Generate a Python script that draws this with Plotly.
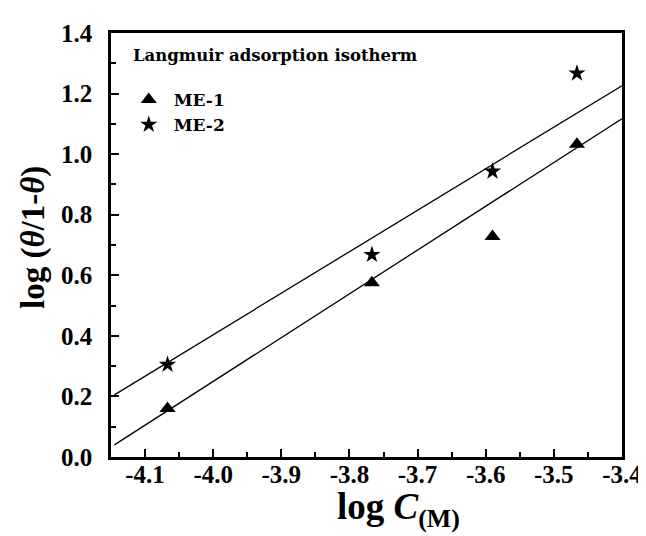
import plotly.graph_objects as go

# data
log_c = [-4.067, -3.767, -3.590, -3.466]
me1 = [0.16, 0.575, 0.728, 1.033]
me2 = [0.305, 0.668, 0.943, 1.267]
fit_x = [-4.145, -3.4]
fit_me1 = [0.04, 1.117]
fit_me2 = [0.205, 1.226]

x_ticks = [-4.1, -4.0, -3.9, -3.8, -3.7, -3.6, -3.5, -3.4]
x_labels = ["-4.1", "-4.0", "-3.9", "-3.8", "-3.7", "-3.6", "-3.5", "-3.4"]
y_ticks = [0.0, 0.2, 0.4, 0.6, 0.8, 1.0, 1.2, 1.4]
y_labels = ["0.0", "0.2", "0.4", "0.6", "0.8", "1.0", "1.2", "1.4"]

W, H = 646, 536
L, R, T, B = 103, 22, 24, 87
pw, ph = W - L - R, H - T - B

def px(x):
    return (x - L) / pw

def py(y):
    return (H - B - y) / ph

fig = go.Figure()
fig.add_trace(go.Scatter(x=fit_x, y=fit_me1, mode="lines", line=dict(color="black", width=1.3), showlegend=False))
fig.add_trace(go.Scatter(x=fit_x, y=fit_me2, mode="lines", line=dict(color="black", width=1.3), showlegend=False))
fig.add_trace(go.Scatter(x=log_c, y=me1, mode="markers", name="ME-1",
                         marker=dict(symbol="triangle-up", size=14, color="black")))
fig.add_trace(go.Scatter(x=log_c, y=me2, mode="markers", name="ME-2",
                         marker=dict(symbol="star", size=13, color="black")))

axis_common = dict(
    showline=True, linecolor="black", linewidth=2.5, mirror=True,
    ticks="inside", ticklen=8, tickwidth=2, tickcolor="black",
    showgrid=False, zeroline=False,
    tickfont=dict(family="Liberation Serif", size=25, color="black", weight="bold"),
)

fig.update_xaxes(range=[-4.15, -3.3999], tickmode="array", tickvals=x_ticks, ticktext=x_labels,
                 minor=dict(ticks="inside", ticklen=5, tickwidth=2, tickcolor="black", dtick=0.05, tick0=-4.15),
                 ticklabelstandoff=-7, **axis_common)
fig.update_yaxes(range=[0, 1.4], tickmode="array", tickvals=y_ticks, ticktext=y_labels,
                 minor=dict(ticks="inside", ticklen=5, tickwidth=2, tickcolor="black", dtick=0.1, tick0=0),
                 ticklabelstandoff=11, **axis_common)

fig.add_annotation(text="Langmuir adsorption isotherm", xref="paper", yref="paper",
                   x=px(123), y=py(47), xanchor="left", yanchor="middle", showarrow=False,
                   font=dict(family="DejaVu Serif", size=16.5, color="black", weight="bold"))
fig.add_annotation(text="log (<i>θ</i>/1-<i>θ</i>)", xref="paper", yref="paper",
                   x=px(24), y=py(229), xanchor="center", yanchor="middle", textangle=-90,
                   showarrow=False,
                   font=dict(family="Liberation Serif", size=33, color="black", weight="bold"))
fig.add_annotation(text="log <i>C</i><sub>(M)</sub>", xref="paper", yref="paper",
                   x=px(396), y=py(502), xanchor="center", yanchor="middle",
                   showarrow=False,
                   font=dict(family="Liberation Serif", size=37, color="black", weight="bold"))

fig.update_layout(
    width=W, height=H,
    margin=dict(l=L, r=R, t=T, b=B),
    paper_bgcolor="white", plot_bgcolor="white",
    showlegend=True,
    legend=dict(x=px(116), y=py(73), xanchor="left", yanchor="top",
                bgcolor="rgba(0,0,0,0)", borderwidth=0,
                font=dict(family="DejaVu Serif", size=17, color="black", weight="bold"),
                tracegroupgap=0, itemwidth=40),
)

fig.write_html("out.html")
